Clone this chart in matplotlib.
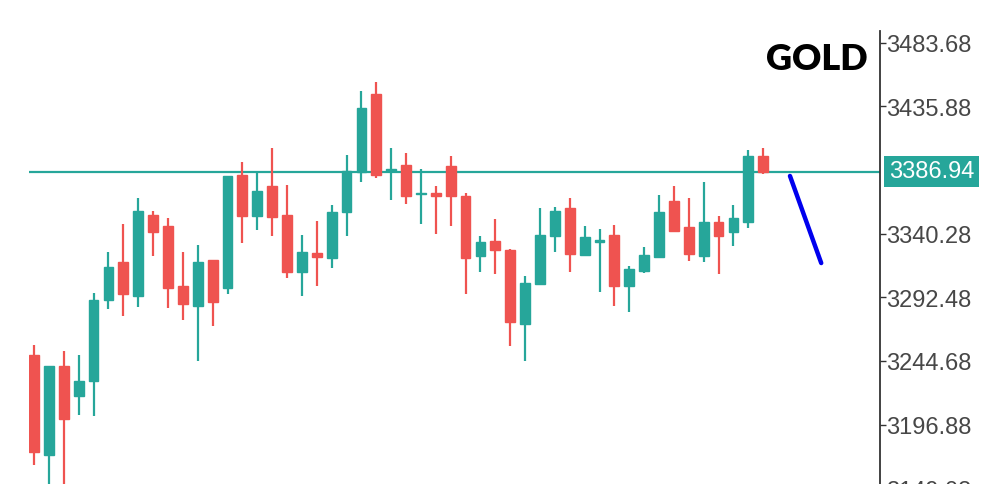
import numpy as np
import matplotlib
matplotlib.use("Agg")
import matplotlib.pyplot as plt
import matplotlib.transforms as mtransforms

# ---- data ----
opens  = [3249.2, 3174.1, 3240.9, 3218.4, 3229.6, 3290.5, 3319.0, 3293.5, 3354.3, 3346.0,
          3301.0, 3286.0, 3320.5, 3299.5, 3384.3, 3353.5, 3376.1, 3354.3, 3311.5, 3325.8,
          3322.0, 3356.5, 3386.6, 3445.1, 3387.3, 3391.8, 3370.0, 3370.8, 3391.1, 3368.5,
          3323.5, 3334.8, 3328.0, 3272.5, 3302.5, 3338.5, 3359.5, 3324.3, 3334.0, 3339.3,
          3301.0, 3312.2, 3322.8, 3364.8, 3345.3, 3323.5, 3349.0, 3341.5, 3349.0, 3398.6]
highs  = [3256.7, 3240.9, 3252.2, 3249.2, 3295.7, 3326.5, 3347.5, 3367.0, 3357.3, 3352.0,
          3326.5, 3331.8, 3320.5, 3383.6, 3394.1, 3386.6, 3404.6, 3376.8, 3339.3, 3349.8,
          3361.8, 3399.3, 3447.4, 3454.1, 3404.6, 3400.8, 3388.8, 3376.1, 3398.6, 3370.8,
          3338.5, 3351.3, 3328.8, 3308.5, 3359.5, 3360.3, 3367.0, 3346.0, 3343.8, 3346.8,
          3316.0, 3330.3, 3369.3, 3376.1, 3367.0, 3379.1, 3353.5, 3361.8, 3403.1, 3404.6]
lows   = [3166.5, 3150.0, 3150.0, 3204.1, 3203.4, 3283.7, 3278.5, 3285.2, 3323.5, 3284.5,
          3275.5, 3244.7, 3271.0, 3295.0, 3333.3, 3343.0, 3338.5, 3307.0, 3293.5, 3301.0,
          3314.5, 3338.5, 3379.1, 3382.1, 3365.5, 3362.5, 3347.5, 3340.0, 3346.0, 3295.0,
          3311.5, 3310.0, 3256.0, 3244.7, 3302.5, 3326.5, 3311.5, 3323.5, 3296.5, 3286.0,
          3281.5, 3310.7, 3322.8, 3342.3, 3319.8, 3319.0, 3310.0, 3331.0, 3344.5, 3385.1]
closes = [3176.3, 3240.9, 3201.1, 3229.6, 3290.5, 3315.2, 3295.0, 3357.3, 3341.5, 3299.5,
          3287.5, 3319.0, 3289.0, 3383.6, 3353.5, 3372.3, 3352.8, 3311.5, 3326.5, 3322.8,
          3356.5, 3387.3, 3434.6, 3384.3, 3388.8, 3368.5, 3371.0, 3368.5, 3368.5, 3322.0,
          3334.0, 3328.0, 3274.0, 3303.2, 3339.3, 3357.3, 3325.0, 3337.8, 3335.5, 3301.0,
          3313.7, 3324.3, 3356.5, 3342.3, 3325.0, 3349.0, 3338.5, 3352.0, 3398.6, 3386.6]

current_price = 3386.94
tick_values = [3149.08, 3196.88, 3244.68, 3292.48, 3340.28, 3435.88, 3483.68]
projection_x = [50.8, 52.9]
projection_y = [3383.6, 3318.2]
title = "GOLD"

# ---- style ----
UP = "#26a69a"
DOWN = "#ef5350"
W, H = 1000, 485

fig = plt.figure(figsize=(10, 4.85), dpi=100)
top_px, bot_px, left_px, right_px = 32, 520, 29, 880
ax = fig.add_axes([left_px / W, 1 - bot_px / H, (right_px - left_px) / W, (bot_px - top_px) / H])

x = np.arange(len(opens))
o = np.array(opens); c = np.array(closes); hi = np.array(highs); lo = np.array(lows)
up = c >= o
colors = np.where(up, UP, DOWN)

ax.vlines(x, lo, hi, colors=colors, linewidth=1.6, zorder=2)
ax.bar(x, c - o, bottom=o, width=0.66, color=colors, edgecolor=colors, linewidth=1.0, zorder=3)

ax.axhline(current_price, color=UP, linewidth=1.6, zorder=1)
ax.plot(projection_x, projection_y, color="#0000ee", linewidth=3.2, solid_capstyle="round", zorder=4)

ax.set_xlim(-0.34, 56.85)
ax.set_ylim(3386.94 - (bot_px - 172.5) * 0.7508, 3386.94 + (172.5 - top_px) * 0.7508)

for s in ["top", "left", "bottom"]:
    ax.spines[s].set_visible(False)
ax.spines["right"].set_color("#333333")
ax.spines["right"].set_linewidth(1.3)
ax.set_xticks([])
ax.yaxis.tick_right()
ax.set_yticks(tick_values)
ax.set_yticklabels([f"{v:.2f}" for v in tick_values])
ax.tick_params(axis="y", direction="out", length=4, width=1, color="#333333", pad=0.5,
               labelsize=17, labelcolor="#474747")
for lab in ax.get_yticklabels():
    lab.set_fontfamily("Liberation Sans")

trans = mtransforms.blended_transform_factory(ax.transAxes, ax.transData)
ax.text(1.0105, current_price, f"{current_price:.2f}", transform=trans, ha="left", va="center",
        fontsize=17, color="white", family="Liberation Sans",
        bbox=dict(boxstyle="square,pad=0.2", fc=UP, ec="none"), clip_on=False, zorder=5)

fig.text(817 / W, 1 - 60 / H, title, ha="center", va="center", fontsize=26,
         fontweight="heavy", family="Lato", color="black")

fig.savefig("out.png", dpi=100)
